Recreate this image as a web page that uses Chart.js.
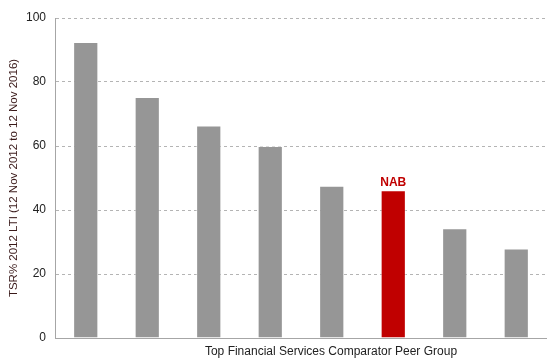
<!DOCTYPE html>
<html>
<head>
<meta charset="utf-8">
<script src="https://cdn.jsdelivr.net/npm/chart.js@4"></script>
<style>
  html, body { margin: 0; padding: 0; background: #fff; }
  #wrap { width: 547px; height: 358px; }
</style>
</head>
<body>
<div id="wrap"><canvas id="tsrChart"></canvas></div>
<script>
// peers, ranked by TSR (only NAB is named in the chart)
const peers = ["", "", "", "", "", "NAB", "", ""];
const tsrValues = [92.5, 75.3, 66.4, 60.0, 47.6, 46.2, 34.3, 28.0];
const yTicks = [0, 20, 40, 60, 80, 100];
const xTitle = "Top Financial Services Comparator Peer Group";

const GREY = "#969696";
const RED = "#c00000";
const FONT = "'Liberation Sans', Arial, sans-serif";

const barColours = peers.map(p => p === "NAB" ? RED : GREY);

// writes "NAB" above the highlighted bar, and the x title (sits right of centre in the original)
const labels = {
  id: "labels",
  afterDatasetsDraw(chart) {
    const meta = chart.getDatasetMeta(0);
    const ctx = chart.ctx;
    peers.forEach((name, i) => {
      if (!name) return;
      const bar = meta.data[i];
      ctx.save();
      ctx.font = "bold 12px " + FONT;
      ctx.fillStyle = RED;
      ctx.textAlign = "center";
      ctx.textBaseline = "bottom";
      ctx.fillText(name, bar.x, bar.y - 1);
      ctx.restore();
    });

    const area = chart.chartArea;
    ctx.save();
    ctx.font = "12px " + FONT;
    ctx.fillStyle = "#222";
    ctx.textAlign = "center";
    ctx.textBaseline = "middle";
    ctx.fillText(xTitle, (area.left + area.right) / 2 + 30, area.bottom + 14);
    ctx.restore();
  }
};

new Chart(document.getElementById("tsrChart"), {
  type: "bar",
  data: {
    labels: peers,
    datasets: [{
      data: tsrValues,
      backgroundColor: barColours,
      borderColor: "rgba(255,255,255,0.5)",
      borderWidth: 1,
      barPercentage: 0.41,
      categoryPercentage: 1
    }]
  },
  options: {
    responsive: true,
    maintainAspectRatio: false,
    animation: false,
    layout: { padding: { top: 18, right: 0, bottom: 0, left: 0 } },
    plugins: {
      legend: { display: false },
      tooltip: { enabled: false }
    },
    scales: {
      x: {
        grid: { display: false },
        border: { display: true, color: "#a6a6a6", width: 1 },
        ticks: { display: false },
        afterFit(scale) { scale.height = 20; }
      },
      y: {
        min: 0,
        max: 100,
        afterBuildTicks(scale) { scale.ticks = yTicks.map(v => ({ value: v })); },
        grid: { color: "#b4b4b4", lineWidth: 1, drawTicks: false },
        border: { display: true, color: "#a6a6a6", width: 1, dash: [3, 3] },
        ticks: {
          padding: 9,
          color: "#222",
          font: { family: FONT, size: 12 }
        },
        title: {
          display: true,
          text: "TSR% 2012 LTI (12 Nov 2012 to 12 Nov 2016)",
          color: "#3a1a1a",
          font: { family: FONT, size: 11.5 },
          padding: { top: 7, bottom: 0 }
        },
        afterFit(scale) { scale.width = 55; }
      }
    }
  },
  plugins: [labels]
});
</script>
</body>
</html>
